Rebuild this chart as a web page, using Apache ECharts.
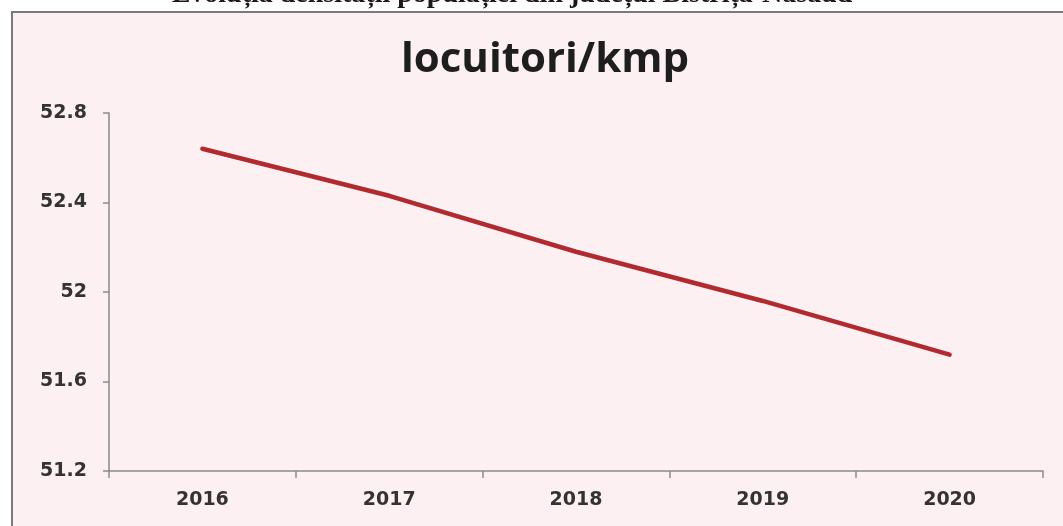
<!DOCTYPE html>
<html>
<head>
<meta charset="utf-8">
<script src="https://cdn.jsdelivr.net/npm/echarts@6/dist/echarts.min.js"></script>
<style>
html,body{margin:0;padding:0;background:#ffffff;}
#c{width:1063px;height:526px;}
</style>
</head>
<body>
<div id="c"></div>
<script>
const categories = ['2016', '2017', '2018', '2019', '2020'];
const densityValues = [52.64, 52.43, 52.18, 51.96, 51.72];
const yTicks = [51.2, 51.6, 52, 52.4, 52.8];
const chartTitle = 'locuitori/kmp';
const headerText = 'Evoluția densității populației din județul Bistrița-Năsăud';

const chart = echarts.init(document.getElementById('c'), null, {renderer: 'canvas'});
chart.setOption({
  backgroundColor: '#ffffff',
  animation: false,
  graphic: [
    {
      type: 'rect', z: -10, silent: true,
      shape: {x: 12, y: 12, width: 1060, height: 530},
      style: {fill: '#fcf0f2', stroke: '#7a7a7a', lineWidth: 2}
    },
    {
      type: 'text', silent: true, z: 10,
      x: 512, y: 9,
      style: {
        text: headerText, fill: '#1a1a1a',
        font: 'bold 28px "Liberation Serif", "DejaVu Serif", serif',
        align: 'center', verticalAlign: 'bottom'
      }
    }
  ],
  title: {
    text: chartTitle,
    left: 540, top: 34,
    textAlign: 'center',
    textStyle: {
      fontFamily: '"Open Sans", "Noto Sans", sans-serif',
      fontWeight: 'bold', fontSize: 42, color: '#1e1e1e'
    }
  },
  grid: {left: 109, right: 20, top: 113, bottom: 55, containLabel: false},
  xAxis: {
    type: 'category',
    data: categories,
    boundaryGap: true,
    axisLine: {lineStyle: {color: '#8a8a8a', width: 1.5}},
    axisTick: {show: true, length: 7, alignWithLabel: false, lineStyle: {color: '#8a8a8a', width: 1.5}},
    axisLabel: {
      margin: 20,
      fontFamily: '"DejaVu Sans", sans-serif', fontWeight: 'bold',
      fontSize: 19, color: '#333333'
    }
  },
  yAxis: {
    type: 'value',
    min: yTicks[0], max: yTicks[yTicks.length - 1], interval: 0.4,
    splitLine: {show: false},
    axisLine: {show: true, lineStyle: {color: '#8a8a8a', width: 1.5}},
    axisTick: {show: true, length: 6, lineStyle: {color: '#8a8a8a', width: 1.5}},
    axisLabel: {
      margin: 22,
      fontFamily: '"DejaVu Sans", sans-serif', fontWeight: 'bold',
      fontSize: 19, color: '#333333'
    }
  },
  series: [{
    type: 'line',
    data: densityValues,
    showSymbol: false,
    symbol: 'none',
    lineStyle: {color: '#b02a30', width: 4.5, cap: 'round'},
    itemStyle: {color: '#b02a30'}
  }]
});
</script>
</body>
</html>
